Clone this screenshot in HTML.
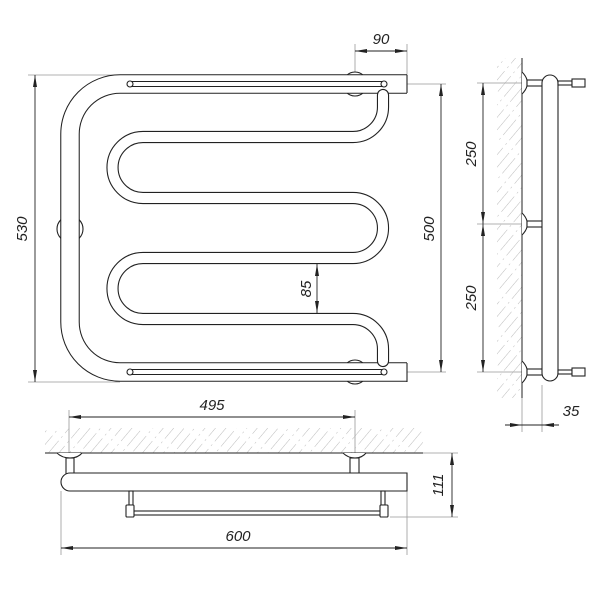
<!DOCTYPE html>
<html><head><meta charset="utf-8"><style>
html,body{margin:0;padding:0;background:#fff;}
svg{display:block;}
text{font-family:"Liberation Sans",sans-serif;font-style:italic;font-size:15px;fill:#222;}
</style></head><body>
<svg width="600" height="600" viewBox="0 0 600 600" xmlns="http://www.w3.org/2000/svg">
<defs>
<pattern id="h" width="8" height="30" patternUnits="userSpaceOnUse" patternTransform="rotate(40)">
<line x1="0" y1="0" x2="0" y2="20" stroke="#aaa" stroke-width="0.8"/>
<line x1="0" y1="24" x2="0" y2="26" stroke="#aaa" stroke-width="0.8"/>
</pattern>
<marker id="a" markerWidth="12" markerHeight="6" refX="12" refY="3" orient="auto" markerUnits="userSpaceOnUse">
<path d="M0,1 L12,3 L0,5 Z" fill="#222"/></marker>
<marker id="b" markerWidth="12" markerHeight="6" refX="0" refY="3" orient="auto" markerUnits="userSpaceOnUse">
<path d="M12,1 L0,3 L12,5 Z" fill="#222"/></marker>
</defs>
<g fill="none" stroke="#999" stroke-width="0.8">
<line x1="28" y1="75" x2="120" y2="75"/><line x1="28" y1="382" x2="120" y2="382"/>
<line x1="407" y1="84" x2="446" y2="84"/><line x1="407" y1="372" x2="446" y2="372"/>
<line x1="355" y1="44" x2="355" y2="84"/><line x1="407" y1="44" x2="407" y2="75"/>
<line x1="477" y1="83" x2="522" y2="83"/><line x1="477" y1="224" x2="522" y2="224"/><line x1="477" y1="372" x2="522" y2="372"/>
<line x1="522" y1="398" x2="522" y2="432"/><line x1="542" y1="385" x2="542" y2="432"/>
<line x1="69" y1="410" x2="69" y2="470"/><line x1="355" y1="410" x2="355" y2="470"/>
<line x1="61" y1="491" x2="61" y2="555"/><line x1="407" y1="491" x2="407" y2="555"/>
<line x1="423" y1="453" x2="458" y2="453"/><line x1="390" y1="517" x2="458" y2="517"/>
</g>
<g stroke="#222" stroke-width="0.9" fill="none">
<line x1="35" y1="75" x2="35" y2="382" marker-start="url(#b)" marker-end="url(#a)"/>
<line x1="441" y1="84" x2="441" y2="372" marker-start="url(#b)" marker-end="url(#a)"/>
<line x1="355" y1="51" x2="407" y2="51" marker-start="url(#b)" marker-end="url(#a)"/>
<line x1="317" y1="264" x2="317" y2="313" marker-start="url(#b)" marker-end="url(#a)"/>
<line x1="483" y1="83" x2="483" y2="224" marker-start="url(#b)" marker-end="url(#a)"/>
<line x1="483" y1="224" x2="483" y2="372" marker-start="url(#b)" marker-end="url(#a)"/>
<line x1="505" y1="425" x2="522" y2="425" marker-end="url(#a)"/>
<line x1="559" y1="425" x2="542" y2="425" marker-end="url(#a)"/>
<line x1="522" y1="425" x2="542" y2="425"/>
<line x1="69" y1="417" x2="355" y2="417" marker-start="url(#b)" marker-end="url(#a)"/>
<line x1="61" y1="548" x2="407" y2="548" marker-start="url(#b)" marker-end="url(#a)"/>
<line x1="452" y1="453" x2="452" y2="517" marker-start="url(#b)" marker-end="url(#a)"/>
</g>
<rect x="45" y="428" width="378" height="25" fill="url(#h)"/>
<rect x="497" y="58" width="25" height="340" fill="url(#h)"/>
<line x1="45" y1="453" x2="423" y2="453" stroke="#222" stroke-width="1"/>
<line x1="522" y1="58" x2="522" y2="398" stroke="#222" stroke-width="1"/>

<g stroke="#222" stroke-width="1.1" fill="#fff">
<circle cx="355" cy="84" r="12"/><circle cx="355" cy="372" r="12"/>
<ellipse cx="70" cy="229" rx="13" ry="13"/>
</g>
<path d="M407,84 H120 A50,50 0 0 0 70,134 V322 A50,50 0 0 0 120,372 H407" fill="none" stroke="#222" stroke-width="19.5"/>
<path d="M407,84 H120 A50,50 0 0 0 70,134 V322 A50,50 0 0 0 120,372 H407" fill="none" stroke="#fff" stroke-width="17.4"/>
<line x1="407" y1="75" x2="407" y2="93" stroke="#222" stroke-width="1.1"/>
<line x1="407" y1="363" x2="407" y2="382" stroke="#222" stroke-width="1.1"/>
<path d="M383,95 V107 A30,30 0 0 1 353,137 H143 A30.5,30.5 0 0 0 143,198 H353 A30,30 0 0 1 353,258 H143 A30.5,30.5 0 0 0 143,319 H353 A30,30 0 0 1 383,349 V361" fill="none" stroke="#222" stroke-width="12.2" stroke-linecap="round"/>
<path d="M383,95 V107 A30,30 0 0 1 353,137 H143 A30.5,30.5 0 0 0 143,198 H353 A30,30 0 0 1 353,258 H143 A30.5,30.5 0 0 0 143,319 H353 A30,30 0 0 1 383,349 V361" fill="none" stroke="#fff" stroke-width="10" stroke-linecap="round"/>
<g stroke="#222" stroke-width="1.1" fill="#fff">
<line x1="130" y1="81.5" x2="384" y2="81.5"/><line x1="130" y1="86.5" x2="384" y2="86.5"/>
<line x1="130" y1="369.5" x2="384" y2="369.5"/><line x1="130" y1="374.5" x2="384" y2="374.5"/>
<circle cx="130" cy="84" r="3"/><circle cx="384" cy="84" r="3"/>
<circle cx="130" cy="372" r="3"/><circle cx="384" cy="372" r="3"/>
</g>

<g stroke="#222" stroke-width="1.1" fill="#fff">
<path d="M522,72 Q526,76 527,80 V86 Q526,90 522,94"/><path d="M522,213 Q526,217 527,221 V227 Q526,231 522,235"/><path d="M522,361 Q526,365 527,369 V375 Q526,379 522,383"/>
<rect x="527" y="80" width="16" height="6"/><rect x="527" y="221" width="16" height="6"/><rect x="527" y="369" width="16" height="6"/>
<rect x="542" y="75" width="16" height="306" rx="8"/>
<rect x="558" y="81" width="14" height="4"/><rect x="572" y="79" width="13" height="8"/>
<rect x="558" y="370" width="14" height="4"/><rect x="572" y="368" width="13" height="8"/>
</g>

<g stroke="#222" stroke-width="1.1" fill="#fff">
<path d="M57,453 Q62,458 70,458 Q78,458 82,453"/><path d="M343,453 Q348,458 355,458 Q362,458 366,453"/>
<rect x="66" y="458" width="8" height="16"/><rect x="350" y="458" width="9" height="16"/>
<path d="M407,473 H70 A9,9 0 0 0 70,491 H407 Z"/>
<rect x="129" y="491" width="4" height="14"/><rect x="381" y="491" width="4" height="14"/>
<rect x="133" y="511" width="248" height="4"/>
<rect x="126" y="505" width="8" height="12" rx="1"/><rect x="380" y="505" width="8" height="12" rx="1"/>
</g>

<text x="381" y="44" text-anchor="middle">90</text>
<text transform="translate(27,229) rotate(-90)" text-anchor="middle">530</text>
<text transform="translate(434,229) rotate(-90)" text-anchor="middle">500</text>
<text transform="translate(311,289) rotate(-90)" text-anchor="middle">85</text>
<text transform="translate(476,154) rotate(-90)" text-anchor="middle">250</text>
<text transform="translate(476,298) rotate(-90)" text-anchor="middle">250</text>
<text x="571" y="416" text-anchor="middle">35</text>
<text x="212" y="410" text-anchor="middle">495</text>
<text x="238" y="541" text-anchor="middle">600</text>
<text transform="translate(443,485) rotate(-90)" text-anchor="middle">111</text>
</svg>
</body></html>
